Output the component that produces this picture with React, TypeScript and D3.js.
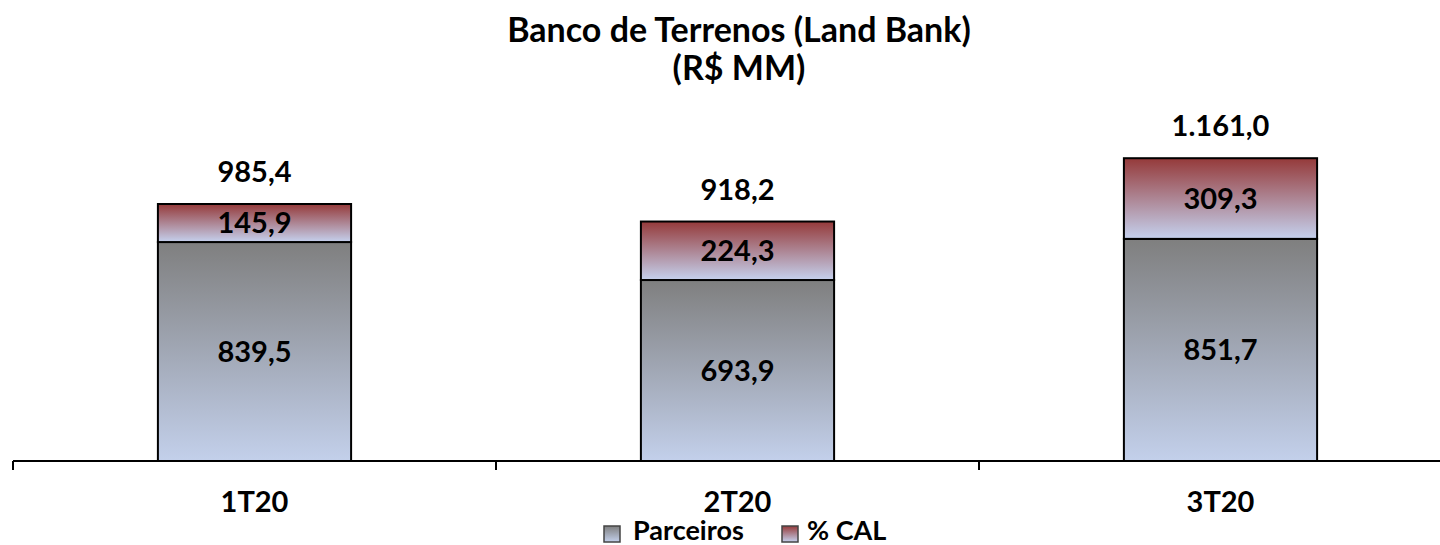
import React from "react";
import * as d3 from "d3";

const categories = ["1T20", "2T20", "3T20"];
const parceiros = [839.5, 693.9, 851.7];
const cal = [145.9, 224.3, 309.3];
const totals = [985.4, 918.2, 1161.0];
const seriesNames = ["Parceiros", "% CAL"];

const fmt = (v: number) => {
  const s = v.toFixed(1).replace(".", ",");
  const [i, d] = s.split(",");
  const ii = i.replace(/\B(?=(\d{3})+(?!\d))/g, ".");
  return ii + "," + d;
};

export default function App() {
  const W = 1440, H = 545;
  const x0 = 13, x1 = 1462;
  const x = d3.scaleBand().domain(categories).range([x0, x0 + 483 * 3]).paddingInner(0.6).paddingOuter(0.3);
  const y = d3.scaleLinear().domain([0, 1000]).range([461, 200.2]);
  const font = "Lato, 'Open Sans', sans-serif";
  const bandStep = 483;
  const lblSize = 29;
  return (
    <svg width={W} height={H} style={{ position: "absolute", left: 0, top: 0 }}>
      <defs>
        <linearGradient id="gP" x1="0" y1="0" x2="0" y2="1">
          <stop offset="0" stopColor="#7f7f7f" />
          <stop offset="1" stopColor="#c3d0eb" />
        </linearGradient>
        <linearGradient id="gC" x1="0" y1="0" x2="0" y2="1">
          <stop offset="0" stopColor="#953a3a" />
          <stop offset="1" stopColor="#c5d1ee" />
        </linearGradient>
      </defs>
      <rect width={W} height={H} fill="#fff" />
      <text x={739} y={42} textAnchor="middle" fontFamily={font} fontWeight="bold" fontSize={34}>Banco de Terrenos (Land Bank)</text>
      <text x={739} y={80} textAnchor="middle" fontFamily={font} fontWeight="bold" fontSize={34}>(R$ MM)</text>
      {categories.map((c, i) => {
        const bx = x(c)!;
        const bw = x.bandwidth();
        const cx = bx + bw / 2;
        const yP = y(parceiros[i]);
        const yT = y(parceiros[i] + cal[i]);
        return (
          <g key={c}>
            <rect x={bx} y={yP} width={bw} height={y(0) - yP} fill="url(#gP)" stroke="#000" strokeWidth={2} />
            <rect x={bx} y={yT} width={bw} height={yP - yT} fill="url(#gC)" stroke="#000" strokeWidth={2} />
            <text x={cx} y={(yP + y(0)) / 2} dy="0.35em" textAnchor="middle" fontFamily={font} fontWeight="bold" fontSize={lblSize}>{fmt(parceiros[i])}</text>
            <text x={cx} y={(yP + yT) / 2} dy="0.35em" textAnchor="middle" fontFamily={font} fontWeight="bold" fontSize={lblSize}>{fmt(cal[i])}</text>
            <text x={cx} y={yT - 32} dy="0.35em" textAnchor="middle" fontFamily={font} fontWeight="bold" fontSize={lblSize}>{fmt(totals[i])}</text>
            <text x={cx} y={501.5} dy="0.35em" textAnchor="middle" fontFamily={font} fontWeight="bold" fontSize={lblSize}>{c}</text>
          </g>
        );
      })}
      <line x1={x0} x2={x1} y1={y(0)} y2={y(0)} stroke="#000" strokeWidth={2} />
      {d3.range(0, 4).map((k) => (
        <line key={k} x1={x0 + k * bandStep} x2={x0 + k * bandStep} y1={y(0)} y2={y(0) + 9} stroke="#000" strokeWidth={2} />
      ))}
      <g fontFamily={font} fontWeight="bold" fontSize={27}>
        <rect x={604} y={526} width={16} height={16} fill="url(#gP)" stroke="#444" strokeWidth={1.5} />
        <text x={633} y={540}>{seriesNames[0]}</text>
        <rect x={782} y={526} width={16} height={16} fill="url(#gC)" stroke="#444" strokeWidth={1.5} />
        <text x={807} y={540}>{seriesNames[1]}</text>
      </g>
    </svg>
  );
}
